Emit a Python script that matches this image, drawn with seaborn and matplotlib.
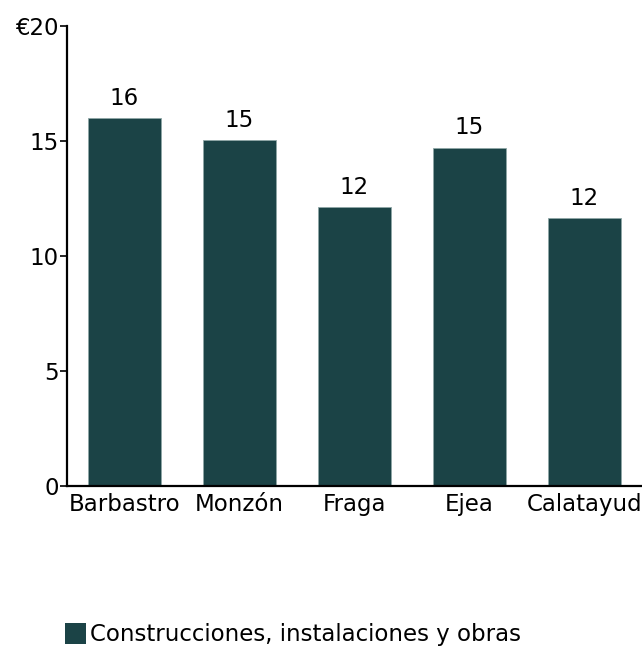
import pandas as pd
import seaborn as sns
import matplotlib.pyplot as plt
from matplotlib.patches import Patch

cities = ["Barbastro", "Monzón", "Fraga", "Ejea", "Calatayud"]
values = [16.0, 15.03, 12.12, 14.71, 11.65]
series_name = "Construcciones, instalaciones y obras"
y_ticks = [0, 5, 10, 15, 20]
y_tick_labels = ["0", "5", "10", "15", "€20"]

bar_color = "#1b4346"


def make_chart():
    data = pd.DataFrame({"city": cities, "value": values})

    sns.set_style("white")
    plt.rcParams["font.family"] = ["DejaVu Sans"]
    plt.rcParams["text.color"] = "black"
    plt.rcParams["xtick.color"] = "black"
    plt.rcParams["ytick.color"] = "black"

    fig = plt.figure(figsize=(6.42, 6.48), dpi=100)
    ax = fig.add_axes([67 / 642, 162 / 648, 1 - 67 / 642, 460 / 648])

    sns.barplot(data=data, x="city", y="value", color=bar_color, width=0.64,
                saturation=1, edgecolor="#8fa6a6", linewidth=0.6, ax=ax)

    ax.bar_label(ax.containers[0], fmt="%.0f", padding=6, fontsize=16.5, color="black")

    ax.set_xlim(-0.5, 4.5)
    ax.set_ylim(0, 20)
    ax.set_yticks(y_ticks)
    ax.set_yticklabels(y_tick_labels, fontsize=16.5)
    ax.tick_params(axis="x", labelsize=16.5, length=0, pad=5, labelcolor="black")
    ax.tick_params(axis="y", length=5, width=1.2, color="black", left=True, pad=1,
                   labelcolor="black")
    ax.set_xlabel("")
    ax.set_ylabel("")

    sns.despine(ax=ax)
    for side in ["left", "bottom"]:
        ax.spines[side].set_color("black")
        ax.spines[side].set_linewidth(1.6)

    handles = [Patch(facecolor=bar_color, edgecolor="none", label=series_name)]
    leg = fig.legend(handles=handles, loc="lower left", bbox_to_anchor=(49 / 642, -0.022),
                     frameon=False, fontsize=16.5, handlelength=0.9, handleheight=1.0,
                     handletextpad=0.2, borderpad=0.2)
    for txt in leg.get_texts():
        txt.set_color("black")


def save_chart_as(filename):
    make_chart()
    plt.savefig(filename, dpi=100)
    plt.close()


if __name__ == '__main__':
    save_chart_as("out.png")
